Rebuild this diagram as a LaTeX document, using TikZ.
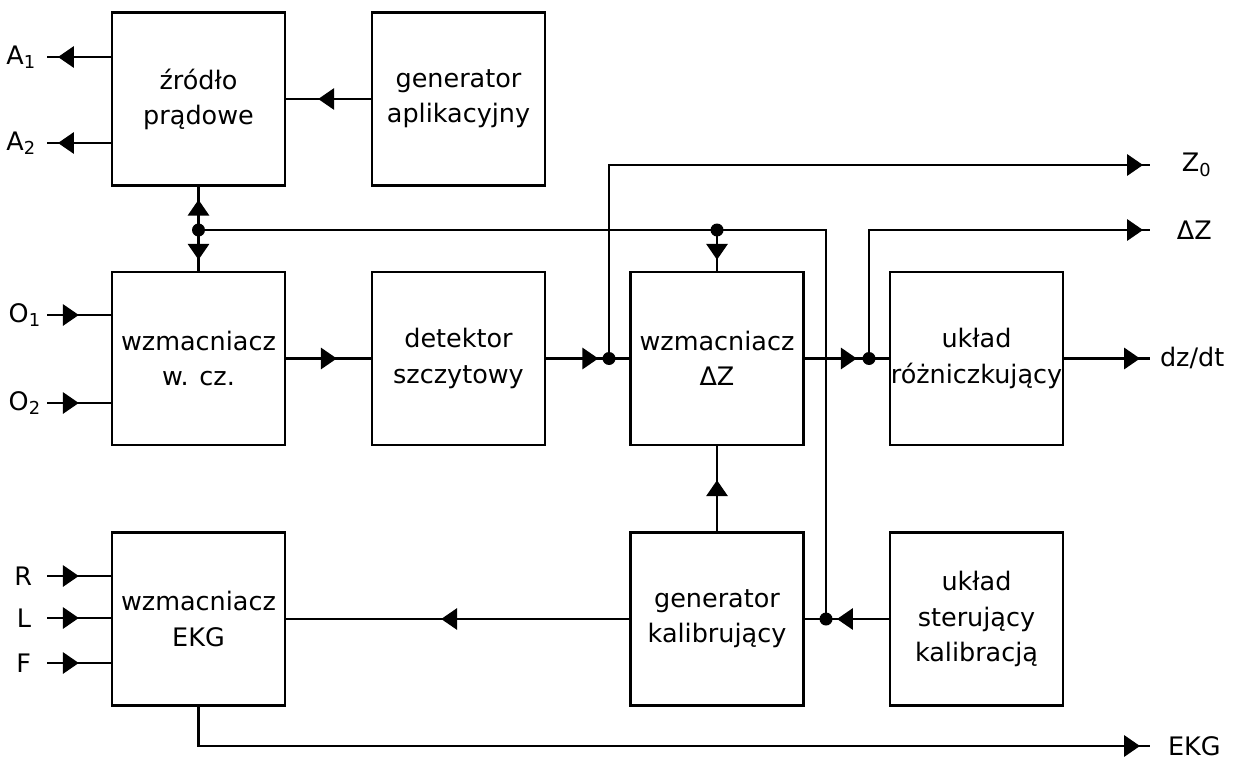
\documentclass[tikz,border=0pt]{standalone}
\usepackage{fontspec}
\setmainfont{DejaVu Sans}
\usetikzlibrary{arrows.meta,decorations.markings,positioning}

\begin{document}
\begin{tikzpicture}[
    x=0.02cm, y=-0.02cm,
    line width=1.4pt,
    every node/.style={font=\fontsize{14.5}{20}\selectfont},
    blok/.style={draw, minimum width=3.46cm, minimum height=3.46cm, align=center, inner sep=0pt},
    etyk/.style={inner sep=1pt},
    arrowat/.style={postaction={decorate},
      decoration={markings, mark=at position #1 with {\arrow{Triangle[length=9pt,width=12pt]}}}}
  ]
    \useasboundingbox (0,0) rectangle (1240,760);

    % bloki
    \node[blok] (zrodlo) at (198.5,99) {źródło\\prądowe};
    \node[blok] (genapl) at (458.5,99) {generator\\aplikacyjny};
    \node[blok] (wzm) at (198.5,358.5) {wzmacniacz\\w. cz.};
    \node[blok] (det) at (458.5,358.5) {detektor\\szczytowy};
    \node[blok] (wdz) at (717,358.5) {wzmacniacz\\ΔZ};
    \node[blok] (rozn) at (976.5,358.5) {układ\\różniczkujący};
    \node[blok] (ekg) at (198.5,619) {wzmacniacz\\EKG};
    \node[blok] (kal) at (717,619) {generator\\kalibrujący};
    \node[blok] (ster) at (976.5,619) {układ\\sterujący\\kalibracją};

    % punkty węzłowe i końce linii
    \coordinate (j1) at (198.5,230);
    \coordinate (j2) at (717,230);
    \coordinate (jz0) at (609,358.5);
    \coordinate (jdz) at (869,358.5);
    \coordinate (jk) at (826,619);
    \coordinate (a1) at (47,57);
    \coordinate (a2) at (47,143);
    \coordinate (o1) at (47,315);
    \coordinate (o2) at (47,403);
    \coordinate (r) at (47,576);
    \coordinate (l) at (47,618);
    \coordinate (f) at (47,663);
    \coordinate (z0) at (1150,165);
    \coordinate (dz) at (1150,230);
    \coordinate (dzdt) at (1150,358.5);
    \coordinate (ekgout) at (1150,746);

    % etykiety
    \node[etyk, left=0.16cm of a1] (lA1) {A\textsubscript{1}};
    \node[etyk, left=0.16cm of a2] (lA2) {A\textsubscript{2}};
    \node[etyk, left=0.06cm of o1] (lO1) {O\textsubscript{1}};
    \node[etyk, left=0.06cm of o2] (lO2) {O\textsubscript{2}};
    \node[etyk, left=0.24cm of r] (lR) {R};
    \node[etyk, left=0.26cm of l] (lL) {L};
    \node[etyk, left=0.26cm of f] (lF) {F};
    \node[etyk, right=0.58cm of z0] (lZ0) {Z\textsubscript{0}};
    \node[etyk, right=0.48cm of dz] (lDZ) {ΔZ};
    \node[etyk, right=0.14cm of dzdt] (ldzdt) {dz/dt};
    \node[etyk, right=0.3cm of ekgout] (lEKG) {EKG};

    % połączenia
    \draw[arrowat=-0.22cm] (zrodlo.west |- a1) -- (a1);
    \draw[arrowat=-0.22cm] (zrodlo.west |- a2) -- (a2);
    \draw[arrowat=-0.64cm] (genapl.west) -- (zrodlo.east);
    \draw[arrowat=-0.26cm] (j1) -- (zrodlo.south);
    \draw[arrowat=-0.22cm] (j1) -- (wzm.north);
    \draw (j1) -| (jk);
    \draw[arrowat=-0.22cm] (j2) -- (wdz.north);
    \draw[arrowat=-0.64cm] (o1) -- (wzm.west |- o1);
    \draw[arrowat=-0.64cm] (o2) -- (wzm.west |- o2);
    \draw[arrowat=-0.68cm] (wzm.east) -- (det.west);
    \draw[arrowat=-0.62cm] (det.east) -- (wdz.west);
    \draw[arrowat=-0.14cm] (jz0) |- (z0);
    \draw[arrowat=-0.64cm] (wdz.east) -- (rozn.west);
    \draw[arrowat=-0.14cm] (jdz) |- (dz);
    \draw[arrowat=-0.2cm] (rozn.east) -- (dzdt);
    \draw[arrowat=-0.68cm] (kal.north) -- (wdz.south);
    \draw[arrowat=-0.22cm] (ster.west) -- (jk);
    \draw (jk) -- (kal.east);
    \draw[arrowat=-3.1cm] (kal.west) -- (ekg.east);
    \draw[arrowat=-0.64cm] (r) -- (ekg.west |- r);
    \draw[arrowat=-0.64cm] (l) -- (ekg.west |- l);
    \draw[arrowat=-0.64cm] (f) -- (ekg.west |- f);
    \draw[arrowat=-0.2cm] (ekg.south) |- (ekgout);

    % kropki
    \foreach \p in {j1,j2,jz0,jdz,jk}
        \fill (\p) circle[radius=0.13cm];

\end{tikzpicture}
\end{document}
